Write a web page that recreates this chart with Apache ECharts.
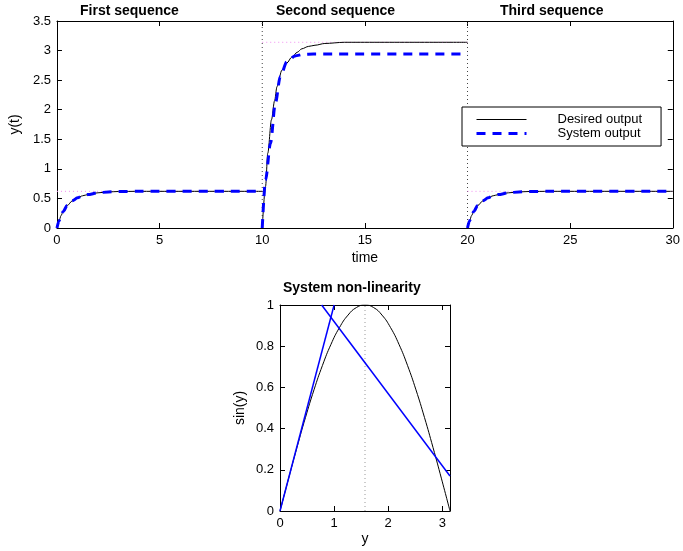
<!DOCTYPE html>
<html>
<head>
<meta charset="utf-8">
<script src="https://cdn.jsdelivr.net/npm/echarts@6/dist/echarts.min.js"></script>
<style>html,body{margin:0;padding:0;background:#fff;}#chart{width:683px;height:551px;}</style>
</head>
<body>
<div id="chart"></div>
<script>
// ---- data ----
var titles = ['First sequence', 'Second sequence', 'Third sequence'];
var xTicksTop = [0, 5, 10, 15, 20, 25, 30];
var yTicksTop = [0, 0.5, 1, 1.5, 2, 2.5, 3, 3.5];
// first / third sequence response (relative time, value)
var seqStepTime = [0, 0.1, 0.2, 0.3, 0.5, 0.75, 1, 1.25, 1.5, 2, 2.5, 3, 4, 10];
var seqStepDesired = [0, 0.12, 0.21, 0.28, 0.38, 0.46, 0.51, 0.545, 0.565, 0.595, 0.61, 0.617, 0.62, 0.62];
var seqStepSystem = [0, 0.12, 0.21, 0.28, 0.38, 0.46, 0.51, 0.545, 0.565, 0.595, 0.61, 0.617, 0.62, 0.62];
// second sequence
var seq2DesiredTime = [10, 10.16, 10.27, 10.45, 10.6, 10.72, 10.96, 11.2, 11.44, 11.7, 11.93, 12.25, 12.57, 13.05, 14, 20];
var seq2Desired = [0, 0.7, 1.265, 1.83, 2.15, 2.39, 2.67, 2.79, 2.89, 2.97, 3.03, 3.07, 3.09, 3.12, 3.14, 3.14];
var seq2SystemTime = [10, 10.16, 10.4, 10.64, 10.88, 11.2, 11.6, 12, 12.5, 20];
var seq2System = [0, 0.81, 1.43, 2.11, 2.56, 2.81, 2.91, 2.935, 2.94, 2.94];
var refLevels = [0.62, 3.14, 0.62];
var seqStarts = [0, 10, 20];
var seqBreaks = [10, 20];
// non-linearity plot
var nlY = [0, 0.157, 0.314, 0.471, 0.628, 0.785, 0.942, 1.100, 1.257, 1.414, 1.571, 1.728, 1.885, 2.042, 2.199, 2.356, 2.513, 2.670, 2.827, 2.985, 3.1416];
var nlSin = [0, 0.156, 0.309, 0.454, 0.588, 0.707, 0.809, 0.891, 0.951, 0.988, 1.000, 0.988, 0.951, 0.891, 0.809, 0.707, 0.588, 0.454, 0.309, 0.156, 0];
var blueLine1 = [[0, 0], [1.0, 1.0]];
var blueLine2 = [[0.77, 1.0], [3.1416, 0.17]];
var peakY = 1.5708;

// ---- build ----
function pairs(xs, ys, off) { return xs.map(function (x, i) { return [x + (off || 0), ys[i]]; }); }
var GAP = '-';
var desiredData = [].concat(
  pairs(seqStepTime, seqStepDesired, 0), [[10, GAP]],
  pairs(seq2DesiredTime, seq2Desired, 0), [[20, GAP]],
  pairs(seqStepTime, seqStepDesired, 20));
var systemData = [].concat(
  pairs(seqStepTime, seqStepSystem, 0), [[10, GAP]],
  pairs(seq2SystemTime, seq2System, 0), [[20, GAP]],
  pairs(seqStepTime, seqStepSystem, 20));

var FONT = 'Liberation Sans, Arial, Helvetica, sans-serif';
var txt = { fontFamily: FONT, color: '#000' };

function mainAxis(extra) {
  return Object.assign({
    type: 'value',
    axisLine: { show: true, onZero: false, lineStyle: { color: '#000', width: 1 } },
    axisTick: { show: true, inside: true, length: 5, lineStyle: { color: '#000' } },
    axisLabel: { show: true, fontFamily: FONT, fontSize: 13, color: '#000', margin: 6 },
    splitLine: { show: false },
    nameTextStyle: { fontFamily: FONT, fontSize: 14, color: '#000' },
    nameLocation: 'middle'
  }, extra);
}
function boxAxis(extra) {
  return Object.assign({
    type: 'value',
    axisLine: { show: true, onZero: false, lineStyle: { color: '#000', width: 1 } },
    axisTick: { show: true, inside: true, length: 5, lineStyle: { color: '#000' } },
    axisLabel: { show: false },
    splitLine: { show: false }
  }, extra);
}

var refSeries = [];
seqBreaks.forEach(function (b) {
  refSeries.push({
    type: 'line', xAxisIndex: 0, yAxisIndex: 0, symbol: 'none', silent: true, z: 1,
    data: [[b, 0], [b, 3.5]],
    lineStyle: { color: '#444', width: 1, type: [1, 3] }
  });
});
refLevels.forEach(function (lv, i) {
  refSeries.push({
    type: 'line', xAxisIndex: 0, yAxisIndex: 0, symbol: 'none', silent: true, z: 1,
    data: [[seqStarts[i], lv], [seqStarts[i] + 10, lv]],
    lineStyle: { color: '#f08cf0', width: 1, type: [1, 3] }
  });
});

var option = {
  animation: false,
  backgroundColor: '#fff',
  title: [
    { text: titles[0], left: 80, top: 4, padding: 0, textStyle: Object.assign({ fontSize: 14, fontWeight: 'bold' }, txt) },
    { text: titles[1], left: 276, top: 4, padding: 0, textStyle: Object.assign({ fontSize: 14, fontWeight: 'bold' }, txt) },
    { text: titles[2], left: 500, top: 4, padding: 0, textStyle: Object.assign({ fontSize: 14, fontWeight: 'bold' }, txt) },
    { text: 'System non-linearity', left: 283, top: 281, padding: 0, textStyle: Object.assign({ fontSize: 14, fontWeight: 'bold' }, txt) }
  ],
  legend: {
    data: [
      { name: 'Desired output', lineStyle: { width: 1, color: '#000' } },
      { name: 'System output', lineStyle: { width: 3, color: '#0000ff', type: [9, 7] } }
    ],
    orient: 'vertical',
    left: 462, top: 107,
    padding: [6, 19, 6, 13],
    itemWidth: 50, itemHeight: 14, itemGap: 1,
    itemStyle: { opacity: 0, borderWidth: 0 },
    backgroundColor: '#fff', borderColor: '#000', borderWidth: 1, borderRadius: 0,
    textStyle: { fontFamily: FONT, fontSize: 13, color: '#000', padding: [0, 0, 0, 26] },
    selectedMode: false
  },
  grid: [
    { left: 54, top: 21, width: 622, height: 207 },
    { left: 280, top: 305, width: 170, height: 206 }
  ],
  xAxis: [
    mainAxis({ gridIndex: 0, min: 0, max: 30, interval: 5, name: 'time', nameGap: 23 }),
    boxAxis({ gridIndex: 0, position: 'top', min: 0, max: 30, interval: 5 }),
    mainAxis({ gridIndex: 1, min: 0, max: 3.1416, interval: 1, name: 'y', nameGap: 21,
      axisLabel: { fontFamily: FONT, fontSize: 13, color: '#000', margin: 6, showMaxLabel: false } }),
    boxAxis({ gridIndex: 1, position: 'top', min: 0, max: 3.1416, interval: 1 })
  ],
  yAxis: [
    mainAxis({ gridIndex: 0, min: 0, max: 3.5, interval: 0.5, name: 'y(t)', nameGap: 25 }),
    boxAxis({ gridIndex: 0, position: 'right', min: 0, max: 3.5, interval: 0.5 }),
    mainAxis({ gridIndex: 1, min: 0, max: 1, interval: 0.2, name: 'sin(y)', nameGap: 33 }),
    boxAxis({ gridIndex: 1, position: 'right', min: 0, max: 1, interval: 0.2 })
  ],
  series: refSeries.concat([
    {
      name: 'Desired output', type: 'line', xAxisIndex: 0, yAxisIndex: 0,
      symbol: 'none', smooth: 0.3, smoothMonotone: 'x', connectNulls: false, z: 3,
      data: desiredData,
      lineStyle: { color: '#000', width: 1 }, itemStyle: { color: '#000' }
    },
    {
      name: 'System output', type: 'line', xAxisIndex: 0, yAxisIndex: 0,
      symbol: 'none', smooth: 0.3, smoothMonotone: 'x', connectNulls: false, z: 4,
      data: systemData,
      lineStyle: { color: '#0000ff', width: 3, type: [9, 7] }, itemStyle: { color: '#0000ff' }
    },
    {
      type: 'line', xAxisIndex: 2, yAxisIndex: 2, symbol: 'none', silent: true, z: 1,
      data: [[peakY, 0], [peakY, 1]],
      lineStyle: { color: '#999', width: 1, type: [1, 3] }
    },
    {
      type: 'line', xAxisIndex: 2, yAxisIndex: 2, symbol: 'none', smooth: true, z: 3,
      data: pairs(nlY, nlSin, 0),
      lineStyle: { color: '#000', width: 1 }
    },
    {
      type: 'line', xAxisIndex: 2, yAxisIndex: 2, symbol: 'none', z: 4,
      data: blueLine1, lineStyle: { color: '#0000ff', width: 1.5 }
    },
    {
      type: 'line', xAxisIndex: 2, yAxisIndex: 2, symbol: 'none', z: 4,
      data: blueLine2, lineStyle: { color: '#0000ff', width: 1.5 }
    }
  ])
};
var chart = echarts.init(document.getElementById('chart'), null, { renderer: 'canvas' });
chart.setOption(option);
</script>
</body>
</html>
